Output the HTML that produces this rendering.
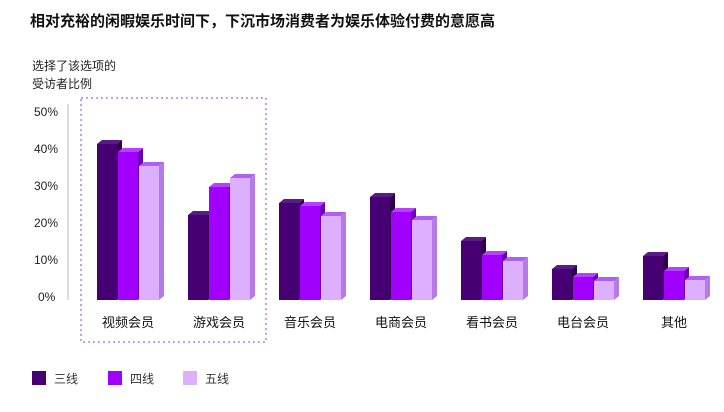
<!DOCTYPE html>
<html><head><meta charset="utf-8"><style>
body{margin:0;background:#fff;font-family:"Liberation Sans","Noto Sans CJK SC",sans-serif;}
.a{fill:#460073}.as{fill:#2e004d}.at{fill:#5a1a8a}
.b{fill:#a100ff}.bs{fill:#7000b8}.bt{fill:#b540ff}
.c{fill:#dcafff}.cs{fill:#b57ae8}.ct{fill:#b060f0}
</style></head><body>
<svg width="724" height="407" xmlns="http://www.w3.org/2000/svg" font-family="Liberation Sans, Noto Sans CJK SC, sans-serif">
<text x="30" y="26" font-size="15" font-weight="bold" fill="#111">相对充裕的闲暇娱乐时间下，下沉市场消费者为娱乐体验付费的意愿高</text>
<text x="32" y="70" font-size="12" fill="#222">选择了该选项的</text>
<text x="32" y="88" font-size="12" fill="#222">受访者比例</text>
<g font-size="12" fill="#222">
<text x="34" y="116">50%</text><text x="34" y="153">40%</text><text x="34" y="190">30%</text>
<text x="34" y="227">20%</text><text x="34" y="264">10%</text><text x="38" y="301">0%</text>
</g>
<line x1="68" y1="104" x2="68" y2="300" stroke="#bbb" stroke-width="1"/>
<rect x="81" y="98" width="185" height="244" fill="none" stroke="#c9a0f0" stroke-width="2" stroke-dasharray="2 3"/>

<!-- group 1 -->
<rect class="a" x="97" y="144" width="20" height="156"/><polygon class="as" points="117,144 122,140 122,296 117,300"/><polygon class="at" points="97,144 102,140 122,140 117,144"/>
<rect class="b" x="118" y="152" width="20" height="148"/><polygon class="bs" points="138,152 143,148 143,296 138,300"/><polygon class="bt" points="118,152 123,148 143,148 138,152"/>
<rect class="c" x="139" y="166" width="20" height="134"/><polygon class="cs" points="159,166 164,162 164,296 159,300"/><polygon class="ct" points="139,166 144,162 164,162 159,166"/>
<!-- group 2 -->
<rect class="a" x="188" y="215" width="20" height="85"/><polygon class="as" points="208,215 213,211 213,296 208,300"/><polygon class="at" points="188,215 193,211 213,211 208,215"/>
<rect class="b" x="209" y="187" width="20" height="113"/><polygon class="bs" points="229,187 234,183 234,296 229,300"/><polygon class="bt" points="209,187 214,183 234,183 229,187"/>
<rect class="c" x="230" y="178" width="20" height="122"/><polygon class="cs" points="250,178 255,174 255,296 250,300"/><polygon class="ct" points="230,178 235,174 255,174 250,178"/>
<!-- group 3 -->
<rect class="a" x="279" y="203" width="20" height="97"/><polygon class="as" points="299,203 304,199 304,296 299,300"/><polygon class="at" points="279,203 284,199 304,199 299,203"/>
<rect class="b" x="300" y="206" width="20" height="94"/><polygon class="bs" points="320,206 325,202 325,296 320,300"/><polygon class="bt" points="300,206 305,202 325,202 320,206"/>
<rect class="c" x="321" y="216" width="20" height="84"/><polygon class="cs" points="341,216 346,212 346,296 341,300"/><polygon class="ct" points="321,216 326,212 346,212 341,216"/>
<!-- group 4 -->
<rect class="a" x="370" y="197" width="20" height="103"/><polygon class="as" points="390,197 395,193 395,296 390,300"/><polygon class="at" points="370,197 375,193 395,193 390,197"/>
<rect class="b" x="391" y="212" width="20" height="88"/><polygon class="bs" points="411,212 416,208 416,296 411,300"/><polygon class="bt" points="391,212 396,208 416,208 411,212"/>
<rect class="c" x="412" y="220" width="20" height="80"/><polygon class="cs" points="432,220 437,216 437,296 432,300"/><polygon class="ct" points="412,220 417,216 437,216 432,220"/>
<!-- group 5 -->
<rect class="a" x="461" y="241" width="20" height="59"/><polygon class="as" points="481,241 486,237 486,296 481,300"/><polygon class="at" points="461,241 466,237 486,237 481,241"/>
<rect class="b" x="482" y="255" width="20" height="45"/><polygon class="bs" points="502,255 507,251 507,296 502,300"/><polygon class="bt" points="482,255 487,251 507,251 502,255"/>
<rect class="c" x="503" y="261" width="20" height="39"/><polygon class="cs" points="523,261 528,257 528,296 523,300"/><polygon class="ct" points="503,261 508,257 528,257 523,261"/>
<!-- group 6 -->
<rect class="a" x="552" y="269" width="20" height="31"/><polygon class="as" points="572,269 577,265 577,296 572,300"/><polygon class="at" points="552,269 557,265 577,265 572,269"/>
<rect class="b" x="573" y="277" width="20" height="23"/><polygon class="bs" points="593,277 598,273 598,296 593,300"/><polygon class="bt" points="573,277 578,273 598,273 593,277"/>
<rect class="c" x="594" y="281" width="20" height="19"/><polygon class="cs" points="614,281 619,277 619,296 614,300"/><polygon class="ct" points="594,281 599,277 619,277 614,281"/>
<!-- group 7 -->
<rect class="a" x="643" y="256" width="20" height="44"/><polygon class="as" points="663,256 668,252 668,296 663,300"/><polygon class="at" points="643,256 648,252 668,252 663,256"/>
<rect class="b" x="664" y="271" width="20" height="29"/><polygon class="bs" points="684,271 689,267 689,296 684,300"/><polygon class="bt" points="664,271 669,267 689,267 684,271"/>
<rect class="c" x="685" y="280" width="20" height="20"/><polygon class="cs" points="705,280 710,276 710,296 705,300"/><polygon class="ct" points="685,280 690,276 710,276 705,280"/>

<g font-size="13" fill="#111" text-anchor="middle">
<text x="128" y="327">视频会员</text><text x="219" y="327">游戏会员</text><text x="310" y="327">音乐会员</text>
<text x="401" y="327">电商会员</text><text x="492" y="327">看书会员</text><text x="583" y="327">电台会员</text><text x="674" y="327">其他</text>
</g>
<rect x="32" y="371" width="14" height="14" fill="#460073"/>
<text x="54" y="383" font-size="12" fill="#333">三线</text>
<rect x="108" y="371" width="14" height="14" fill="#a100ff"/>
<text x="130" y="383" font-size="12" fill="#333">四线</text>
<rect x="183" y="371" width="14" height="14" fill="#dcafff"/>
<text x="205" y="383" font-size="12" fill="#333">五线</text>
</svg>
</body></html>
